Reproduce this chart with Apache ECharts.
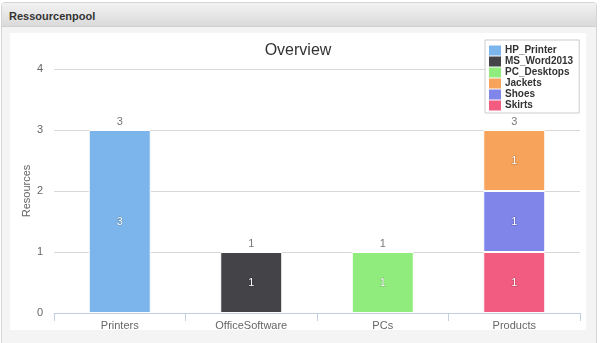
<!DOCTYPE html>
<html>
<head>
<meta charset="utf-8">
<script src="https://cdn.jsdelivr.net/npm/echarts@6/dist/echarts.min.js"></script>
<style>
  html, body { margin: 0; padding: 0; width: 600px; height: 343px; background: #fff; overflow: hidden; font-family: "Liberation Sans", Arial, sans-serif; }
  #panel { position: absolute; left: 1px; top: 2px; width: 594px; height: 345px; border: 1px solid #d4d4d4; border-radius: 4px; background: #f4f4f4; overflow: hidden; }
  #head { position: absolute; left: 0; top: 0; width: 100%; height: 23px; background: linear-gradient(#f2f2f2, #dadada); border-bottom: 1px solid #d0d0d0; }
  #head span { position: absolute; left: 7px; top: 7px; font-size: 11px; font-weight: bold; color: #333; }
  #chart { position: absolute; left: 10px; top: 33px; width: 576px; height: 297px; background: #fff; }
</style>
</head>
<body>
<div id="panel"><div id="head"><span>Ressourcenpool</span></div></div>
<div id="chart"></div>
<script>
const categories = ['Printers', 'OfficeSoftware', 'PCs', 'Products'];
const HP_Printer   = [3, null, null, null];
const MS_Word2013  = [null, 1, null, null];
const PC_Desktops  = [null, null, 1, null];
const Jackets      = [null, null, null, 1];
const Shoes        = [null, null, null, 1];
const Skirts       = [null, null, null, 1];
const yTicks = [0, 1, 2, 3, 4];

const legendOrder = [
  ['HP_Printer', HP_Printer, '#7cb5ec'],
  ['MS_Word2013', MS_Word2013, '#434348'],
  ['PC_Desktops', PC_Desktops, '#90ed7d'],
  ['Jackets', Jackets, '#f7a35c'],
  ['Shoes', Shoes, '#8085e9'],
  ['Skirts', Skirts, '#f15c80']
];
// stacking order: first stacked series is at the bottom (Highcharts stacks reversed)
const stackOrder = legendOrder.slice().reverse();

const totals = categories.map((c, i) =>
  legendOrder.reduce((s, d) => s + (d[1][i] || 0), 0));

const FONT = 'Liberation Sans, Arial, sans-serif';

const series = stackOrder.map(([name, data, color]) => ({
  name: name,
  type: 'bar',
  stack: 'total',
  barWidth: 62,
  data: data.map(v => v == null ? '-' : v),
  itemStyle: { color: color, borderColor: '#fff', borderWidth: 1 },
  label: {
    show: true, position: 'inside', color: '#fff', fontSize: 11, fontFamily: FONT,
    textBorderColor: 'rgba(0,0,0,0.25)', textBorderWidth: 1
  },
  emphasis: { disabled: true }
}));

series.push({
  name: 'total',
  type: 'scatter',
  symbolSize: 0,
  data: totals,
  label: {
    show: true, position: 'top', distance: 3, color: '#555', fontSize: 11, fontFamily: FONT
  },
  z: 10,
  silent: true
});

const chart = echarts.init(document.getElementById('chart'));
chart.setOption({
  animation: false,
  title: {
    text: 'Overview', left: 'center', top: 5,
    textStyle: { fontSize: 16, fontWeight: 'normal', color: '#333', fontFamily: FONT }
  },
  legend: {
    data: legendOrder.map(d => d[0]),
    orient: 'vertical', left: 475, top: 7,
    icon: 'rect', itemWidth: 12, itemHeight: 10, itemGap: 0,
    padding: [5, 6, 2, 4],
    backgroundColor: '#fff', borderColor: '#ccc', borderWidth: 1,
    textStyle: { fontSize: 10, fontWeight: 'bold', color: '#333', lineHeight: 11, padding: [0, 0, 0, -1], fontFamily: FONT },
    itemStyle: { borderWidth: 0 },
    selectedMode: false
  },
  grid: { left: 44, right: 6, top: 36, bottom: 17, outerBoundsMode: 'none', containLabel: false },
  xAxis: {
    type: 'category',
    data: categories,
    axisLine: { lineStyle: { color: '#c0d0e0' } },
    axisTick: { show: true, length: 8, lineStyle: { color: '#c0d0e0' } },
    axisLabel: { color: '#666', fontSize: 11, margin: 7, fontFamily: FONT }
  },
  yAxis: {
    type: 'value',
    min: yTicks[0], max: yTicks[yTicks.length - 1], interval: 1,
    name: 'Resources', nameLocation: 'middle', nameGap: 22, nameMoveOverlap: false,
    nameTextStyle: { color: '#666', fontSize: 11, fontFamily: FONT },
    axisLine: { show: false },
    axisTick: { show: false },
    axisLabel: { color: '#666', fontSize: 11, margin: 11, fontFamily: FONT },
    splitLine: { lineStyle: { color: '#d8d8d8' } }
  },
  series: series
});
</script>
</body>
</html>
